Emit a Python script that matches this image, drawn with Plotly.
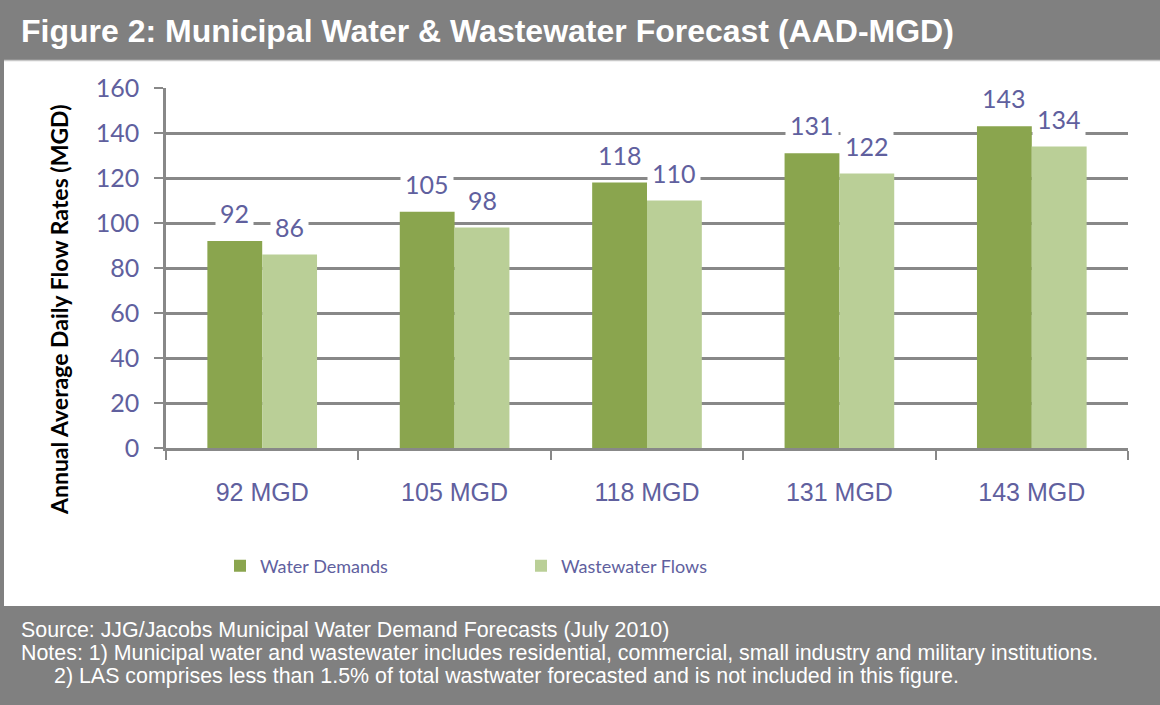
import plotly.graph_objects as go

categories = ["92 MGD", "105 MGD", "118 MGD", "131 MGD", "143 MGD"]
water_demands = [92, 105, 118, 131, 143]
wastewater_flows = [86, 98, 110, 122, 134]
y_ticks = [0, 20, 40, 60, 80, 100, 120, 140, 160]

DARK = "#8AA54E"
LIGHT = "#BACF97"
TXT = "#60609E"
GRID = "#888888"
HDR = "#808080"

W, H = 1160, 705
ML, MR, MT, MB = 166, 32, 88, 257
PW = W - ML - MR
PH = H - MT - MB


def px_x(px):
    return (px - ML) / PW


def px_y(py):
    return (H - MB - py) / PH


fig = go.Figure()
fig.add_trace(go.Bar(x=categories, y=water_demands, name="Water Demands",
                     marker=dict(color=DARK, line=dict(width=0))))
fig.add_trace(go.Bar(x=categories, y=wastewater_flows, name="Wastewater Flows",
                     marker=dict(color=LIGHT, line=dict(width=0))))

annotations = []
for series, shift in ((water_demands, -27.4), (wastewater_flows, 27.4)):
    for c, v in zip(categories, series):
        annotations.append(dict(
            x=c, y=v, xref="x", yref="y", text=str(v), showarrow=False,
            xshift=shift, yshift=8, yanchor="bottom", bgcolor="white",
            borderpad=4, font=dict(family="Lato, Open Sans, sans-serif", size=25, color=TXT)))

# y-axis title
annotations.append(dict(
    x=px_x(43), y=px_y(310), xref="paper", yref="paper", textangle=-90,
    text="<b>Annual Average Daily Flow Rates (MGD)</b>", showarrow=False,
    font=dict(family="Lato, Open Sans, sans-serif", size=23, color="#000000")))

# header title
annotations.append(dict(
    x=px_x(19), y=px_y(31), xref="paper", yref="paper", xanchor="left", yanchor="middle",
    text="<b>Figure 2: Municipal Water &amp; Wastewater Forecast (AAD-MGD)</b>", showarrow=False,
    font=dict(family="Liberation Sans, Arial, sans-serif", size=32, color="white")))

footer_lines = [
    ("Source: JJG/Jacobs Municipal Water Demand Forecasts (July 2010)", 19, 630),
    ("Notes: 1) Municipal water and wastewater includes residential, commercial, small industry and military institutions.", 19, 653),
    ("2) LAS comprises less than 1.5% of total wastwater forecasted and is not included in this figure.", 52, 676),
]
for t, fx, fy in footer_lines:
    annotations.append(dict(
        x=px_x(fx), y=px_y(fy), xref="paper", yref="paper", xanchor="left", yanchor="middle",
        text=t, showarrow=False,
        font=dict(family="Liberation Sans, Arial, sans-serif", size=21.4, color="white")))

shapes = [
    dict(type="rect", xref="paper", yref="paper", layer="below",
         x0=px_x(4), x1=px_x(1162), y0=px_y(606), y1=px_y(60),
         fillcolor="white", line=dict(width=0)),
    dict(type="line", xref="paper", yref="paper", layer="below",
         x0=px_x(4), x1=px_x(1162), y0=px_y(60.5), y1=px_y(60.5),
         line=dict(color="#C8C8C8", width=1.5)),
]

fig.update_layout(
    width=W, height=H,
    margin=dict(l=ML, r=MR, t=MT, b=MB),
    paper_bgcolor=HDR, plot_bgcolor="rgba(0,0,0,0)",
    barmode="group", bargap=0.43, bargroupgap=0,
    showlegend=True,
    legend=dict(orientation="h", x=px_x(220), y=px_y(566), xanchor="left", yanchor="middle",
                entrywidth=256, entrywidthmode="pixels", bgcolor="rgba(0,0,0,0)",
                font=dict(family="Lato, Open Sans, sans-serif", size=18, color=TXT),
                traceorder="normal"),
    annotations=annotations,
    shapes=shapes,
    xaxis=dict(
        showline=True, linecolor=GRID, linewidth=2.5,
        ticks="outside", tickson="boundaries", ticklen=9, tickwidth=2, tickcolor=GRID,
        tickfont=dict(family="Liberation Sans, Arial, sans-serif", size=25, color=TXT),
        ticklabelstandoff=20, showgrid=False, fixedrange=True),
    yaxis=dict(
        range=[0, 160], tickvals=y_ticks, showline=True, linecolor=GRID, linewidth=2.5,
        ticks="outside", ticklen=9, tickwidth=2, tickcolor=GRID,
        showgrid=True, gridcolor=GRID, gridwidth=2.5, zeroline=False,
        tickfont=dict(family="Lato, Open Sans, sans-serif", size=25, color=TXT),
        ticklabelstandoff=10, fixedrange=True),
)

fig.write_html("out.html", config={"displayModeBar": False},
               post_script="document.body.style.margin='0';")
